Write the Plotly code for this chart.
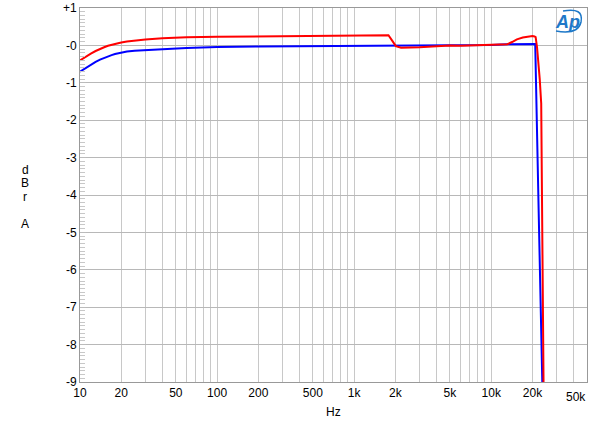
import plotly.graph_objects as go

# Frequency response data (Hz, dBr)
red_freq = [10, 11, 12, 13, 14, 15, 16, 17, 18, 20, 22, 25, 30, 40, 60, 100, 200, 500, 1000, 1500, 1780, 1900, 2015, 2200, 3000, 4000,
            5000, 6000, 7000, 10000, 13100, 14200, 15400, 17000, 18200, 19300, 20000, 20700, 21100, 21600, 22040, 22600, 23170, 24170]
red_db = [-0.40, -0.30, -0.22, -0.15, -0.09, -0.05, -0.01, 0.02, 0.045, 0.08, 0.105, 0.13, 0.16, 0.19, 0.22, 0.23, 0.24, 0.25, 0.26, 0.265, 0.27, 0.12, -0.02, -0.06, -0.05, -0.02,
          0.0, -0.01, 0.0, 0.01, 0.03, 0.09, 0.16, 0.21, 0.23, 0.25, 0.25, 0.24, 0.22, -0.05, -0.40, -0.90, -1.55, -9.6]

blue_freq = [10, 11, 12, 13, 14, 15, 16, 17, 18, 20, 22, 25, 30, 40, 60, 100, 200, 500, 1000, 2000, 5000, 10000, 13100, 20000, 20950, 22220, 23690]
blue_db = [-0.70, -0.60, -0.51, -0.44, -0.38, -0.33, -0.29, -0.26, -0.23, -0.19, -0.165, -0.14, -0.12, -0.10, -0.07, -0.04, -0.03, -0.02, -0.02, -0.02, -0.01, 0.01, 0.03, 0.04, 0.04, -4.5, -9.3]

x_tickvals = [10, 20, 30, 40, 50, 60, 70, 80, 90,
              100, 200, 300, 400, 500, 600, 700, 800, 900,
              1000, 2000, 3000, 4000, 5000, 6000, 7000, 8000, 9000,
              10000, 20000, 30000, 40000, 50000]
x_labels = {10: "10", 20: "20", 50: "50", 100: "100", 200: "200", 500: "500",
            1000: "1k", 2000: "2k", 5000: "5k", 10000: "10k", 20000: "20k"}
y_tickvals = [-9, -8, -7, -6, -5, -4, -3, -2, -1, 0, 1]
y_ticktext = ["-9", "-8", "-7", "-6", "-5", "-4", "-3", "-2", "-1", "-0", "+1"]

fig = go.Figure()
fig.add_trace(go.Scatter(x=blue_freq, y=blue_db, mode="lines",
                         line=dict(color="#0000ff", width=2)))
fig.add_trace(go.Scatter(x=red_freq, y=red_db, mode="lines",
                         line=dict(color="#ff0000", width=2)))

font = dict(family="Liberation Sans, Arial, sans-serif", size=12, color="#000000")

fig.update_layout(
    width=600, height=427,
    margin=dict(l=80, r=13, t=8, b=45),
    paper_bgcolor="white", plot_bgcolor="white",
    showlegend=False,
    font=font,
    xaxis=dict(type="log", range=[1, 4.69897], automargin=False,
               tickvals=x_tickvals,
               ticktext=[x_labels.get(v, "") for v in x_tickvals],
               showgrid=True, gridcolor="#c8c8c8", gridwidth=1,
               showline=True, linecolor="#999999", linewidth=1, mirror=True,
               ticks="", zeroline=False, tickfont=font),
    yaxis=dict(range=[-9, 1], tickvals=y_tickvals, ticktext=y_ticktext, automargin=False,
               showgrid=True, gridcolor="#b8b8b8", gridwidth=1,
               showline=True, linecolor="#999999", linewidth=1, mirror=True,
               ticks="inside", ticklen=6, tickcolor="#bbbbbb",
               minor=dict(dtick=0.1, ticks="inside", ticklen=5, tickcolor="#c8c8c8", showgrid=False),
               zeroline=False, tickfont=font),
)

def px_to_paper(px, py):
    return (px - 80) / 507.0, (382 - py) / 374.0

ann = [("Hz", 333, 412), ("d", 25, 170), ("B", 25, 183), ("r", 25, 197), ("A", 25, 224),
       ("50k", 576, 397)]
for t, px, py in ann:
    x, y = px_to_paper(px, py)
    fig.add_annotation(text=t, x=x, y=y, xref="paper", yref="paper",
                       showarrow=False, font=font, xanchor="center", yanchor="middle")

# Ap logo
lx, ly = px_to_paper(567, 22)
fig.add_annotation(text="<i><b>Ap</b></i>", x=lx, y=ly, xref="paper", yref="paper", showarrow=False,
                   font=dict(family="Liberation Sans, Arial, sans-serif", size=18, color="#1e78c8"),
                   xanchor="center", yanchor="middle")
pts = [(563, 11), (584, 7), (581, 22), (578, 35), (556, 31)]
pp = [px_to_paper(a, b) for a, b in pts]
path = "M {:.4f},{:.4f} Q {:.4f},{:.4f} {:.4f},{:.4f} Q {:.4f},{:.4f} {:.4f},{:.4f}".format(
    pp[0][0], pp[0][1], pp[1][0], pp[1][1], pp[2][0], pp[2][1], pp[3][0], pp[3][1], pp[4][0], pp[4][1])
fig.add_shape(type="path", path=path, xref="paper", yref="paper",
              line=dict(color="#1e78c8", width=1.5))

fig.write_html("out.html", config={"displayModeBar": False},
               post_script="document.body.style.margin='0px';")
